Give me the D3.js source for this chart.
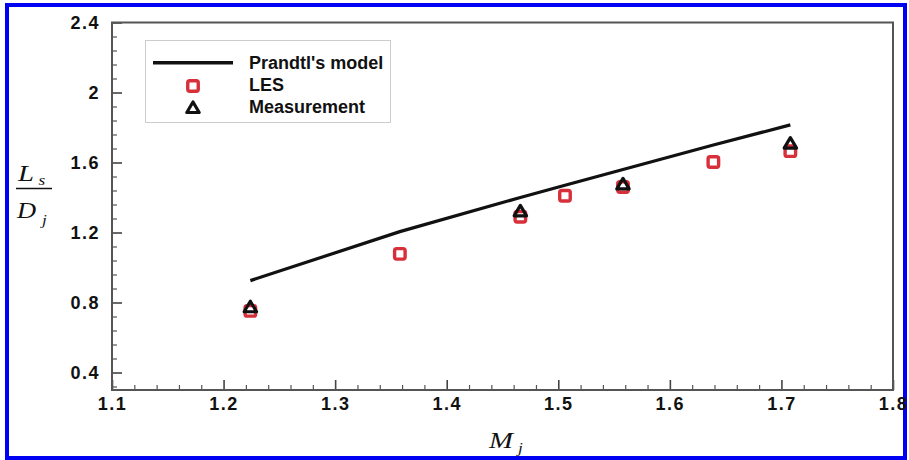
<!DOCTYPE html>
<html>
<head>
<meta charset="utf-8">
<script src="https://cdn.jsdelivr.net/npm/d3@7"></script>
<style>
  html, body { margin: 0; padding: 0; background: #fff; }
  svg { display: block; }
  .tick-label { font-family: "Liberation Sans", Arial, sans-serif; font-weight: bold; font-size: 18px; fill: #111; letter-spacing: 1.5px; }
  .legend-text { font-family: "Liberation Sans", Arial, sans-serif; font-weight: bold; font-size: 18px; fill: #111; }
  .math { font-family: "Liberation Serif", "Times New Roman", serif; font-style: italic; fill: #111; }
</style>
</head>
<body>
<svg id="chart" width="909" height="460"></svg>
<script>
// Shock-cell length vs. fully expanded jet Mach number
const prandtlMach  = [1.224, 1.358, 1.466, 1.506, 1.558, 1.639, 1.708];
const prandtlRatio = [0.925, 1.205, 1.400, 1.470, 1.560, 1.700, 1.815];

const lesMach  = [1.224, 1.358, 1.466, 1.506, 1.558, 1.639, 1.708];
const lesRatio = [0.752, 1.078, 1.290, 1.410, 1.460, 1.603, 1.665];

const measMach  = [1.224, 1.466, 1.558, 1.708];
const measRatio = [0.770, 1.318, 1.472, 1.705];

const xTicks = [1.1, 1.2, 1.3, 1.4, 1.5, 1.6, 1.7, 1.8];
const yTicks = [0.4, 0.8, 1.2, 1.6, 2.0, 2.4];

const legendLabels = ["Prandtl's model", "LES", "Measurement"];

const svg = d3.select("#chart");

const plot = { left: 112, right: 893, top: 22.5, bottom: 390 };

const x = d3.scaleLinear().domain([1.1, 1.8]).range([plot.left, plot.right]);
const y = d3.scaleLinear().domain([0.3, 2.4]).range([plot.bottom, plot.top]);

const lesColor = "#d8303a";

// outer blue frame
svg.append("rect")
  .attr("x", 7).attr("y", 5).attr("width", 898).attr("height", 453)
  .attr("fill", "none").attr("stroke", "#0000f2").attr("stroke-width", 4);

// minor ticks
const xMinor = d3.range(1.1, 1.8001, 0.02).filter(v => Math.abs(v * 10 - Math.round(v * 10)) > 1e-6);
const yMinor = d3.range(0.32, 2.4001, 0.08).filter(v => Math.abs(v / 0.4 - Math.round(v / 0.4)) > 1e-6);

svg.append("g")
  .attr("transform", `translate(0,${plot.bottom})`)
  .call(d3.axisBottom(x).tickValues(xMinor).tickSize(-5).tickFormat(""))
  .call(g => g.select(".domain").remove())
  .call(g => g.selectAll("line").attr("stroke", "#555").attr("stroke-width", 1.2));

svg.append("g")
  .attr("transform", `translate(${plot.left},0)`)
  .call(d3.axisLeft(y).tickValues(yMinor).tickSize(-5).tickFormat(""))
  .call(g => g.select(".domain").remove())
  .call(g => g.selectAll("line").attr("stroke", "#555").attr("stroke-width", 1.2));

// major ticks with labels
svg.append("g")
  .attr("transform", `translate(0,${plot.bottom})`)
  .call(d3.axisBottom(x).tickValues(xTicks).tickSize(-10).tickPadding(7).tickFormat(d3.format("")))
  .call(g => g.select(".domain").remove())
  .call(g => g.selectAll("line").attr("stroke", "#444").attr("stroke-width", 1.6))
  .call(g => g.selectAll("text").attr("class", "tick-label").attr("font-size", null).attr("font-family", null).attr("fill", null));

svg.append("g")
  .attr("transform", `translate(${plot.left},0)`)
  .call(d3.axisLeft(y).tickValues(yTicks).tickSize(-10).tickPadding(12).tickFormat(d3.format("")))
  .call(g => g.select(".domain").remove())
  .call(g => g.selectAll("line").attr("stroke", "#444").attr("stroke-width", 1.6))
  .call(g => g.selectAll("text").attr("class", "tick-label").attr("font-size", null).attr("font-family", null).attr("fill", null));

// plot frame
svg.append("rect")
  .attr("x", plot.left).attr("y", plot.top)
  .attr("width", plot.right - plot.left).attr("height", plot.bottom - plot.top)
  .attr("fill", "none").attr("stroke", "#555").attr("stroke-width", 2);

// Prandtl's model curve
const line = d3.line().x(d => x(d[0])).y(d => y(d[1]));
svg.append("path")
  .datum(prandtlMach.map((m, i) => [m, prandtlRatio[i]]))
  .attr("d", line)
  .attr("fill", "none").attr("stroke", "#111").attr("stroke-width", 3.2);

// marker shapes
const sq = 10.5;
function trianglePath(cx, cy) {
  const hw = 6.2, h = 10.5;
  return `M${cx},${cy - h * 0.62}L${cx + hw},${cy + h * 0.38}L${cx - hw},${cy + h * 0.38}Z`;
}

// LES squares
svg.append("g").selectAll("rect")
  .data(lesMach.map((m, i) => [m, lesRatio[i]]))
  .join("rect")
  .attr("x", d => x(d[0]) - sq / 2).attr("y", d => y(d[1]) - sq / 2)
  .attr("width", sq).attr("height", sq).attr("rx", 2)
  .attr("fill", "none").attr("stroke", lesColor).attr("stroke-width", 3.4);

// measurement triangles
svg.append("g").selectAll("path")
  .data(measMach.map((m, i) => [m, measRatio[i]]))
  .join("path")
  .attr("d", d => trianglePath(x(d[0]), y(d[1])))
  .attr("fill", "none").attr("stroke", "#111").attr("stroke-width", 3.2).attr("stroke-linejoin", "round");

// legend
const lg = svg.append("g");
lg.append("rect").attr("x", 145.5).attr("y", 40.5).attr("width", 245).attr("height", 82)
  .attr("fill", "#fff").attr("stroke", "#ccc").attr("stroke-width", 1);
lg.append("line").attr("x1", 153).attr("x2", 233).attr("y1", 62.7).attr("y2", 62.7)
  .attr("stroke", "#111").attr("stroke-width", 3.4);
lg.append("rect").attr("x", 193 - sq / 2).attr("y", 86 - sq / 2).attr("width", sq).attr("height", sq).attr("rx", 2)
  .attr("fill", "none").attr("stroke", lesColor).attr("stroke-width", 3.4);
lg.append("path").attr("d", trianglePath(193, 108.5))
  .attr("fill", "none").attr("stroke", "#111").attr("stroke-width", 3.2).attr("stroke-linejoin", "round");
lg.selectAll("text.legend-text")
  .data(legendLabels)
  .join("text")
  .attr("class", "legend-text")
  .attr("x", 249)
  .attr("y", (d, i) => 69 + i * 22)
  .text(d => d);

// italic math glyphs, widened to the typeset proportions
function mathText(parent, tx, ty, size, str, sx) {
  parent.append("text")
    .attr("class", "math")
    .attr("transform", `translate(${tx},${ty}) scale(${sx},1)`)
    .attr("font-size", size)
    .text(str);
}

// y-axis label: L_s / D_j
const yl = svg.append("g");
mathText(yl, 18, 180.5, 23, "L", 1.25);
mathText(yl, 38.5, 184.5, 15, "s", 1.15);
yl.append("line").attr("x1", 16).attr("x2", 52).attr("y1", 188.5).attr("y2", 188.5)
  .attr("stroke", "#111").attr("stroke-width", 1.5);
mathText(yl, 17, 218, 23, "D", 1.15);
mathText(yl, 42, 225, 15, "j", 1.15);

// x-axis label: M_j
const xl = svg.append("g");
mathText(xl, 489, 447.5, 23, "M", 1.25);
mathText(xl, 518, 452.5, 15, "j", 1.15);
</script>
</body>
</html>
